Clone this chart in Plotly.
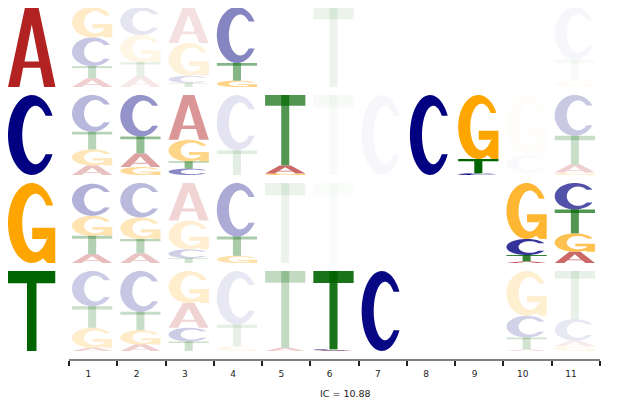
import numpy as np
import plotly.graph_objects as go

# ---------------- data ----------------
letters = ["A", "C", "G", "T"]
positions = list(range(1, 12))
tick_labels = [str(p) for p in positions]
ic_label = "IC = 10.88"

# Conditional letter distributions per position (order A, C, G, T),
# one list per "previous letter" row. None = row not shown.
cond_after_A = [
    [0.11, 0.36, 0.38, 0.15],
    [0.13, 0.35, 0.34, 0.18],
    [0.45, 0.09, 0.41, 0.05],
    [0.00, 0.70, 0.08, 0.22],
    None,
    [0.00, 0.00, 0.00, 1.00],
    None,
    None,
    None,
    None,
    [0.00, 0.66, 0.09, 0.25],
]
cond_after_C = [
    [0.12, 0.46, 0.20, 0.22],
    [0.17, 0.52, 0.10, 0.21],
    [0.56, 0.08, 0.27, 0.09],
    [0.00, 0.69, 0.00, 0.31],
    [0.10, 0.00, 0.02, 0.88],
    [0.00, 0.00, 0.00, 1.00],
    [0.00, 1.00, 0.00, 0.00],
    [0.00, 1.00, 0.00, 0.00],
    [0.00, 0.02, 0.80, 0.18],
    [0.01, 0.22, 0.75, 0.02],
    [0.10, 0.51, 0.03, 0.36],
]
cond_after_G = [
    [0.11, 0.40, 0.25, 0.23],
    [0.12, 0.43, 0.27, 0.18],
    [0.47, 0.11, 0.36, 0.06],
    [0.00, 0.67, 0.09, 0.24],
    [0.00, 0.00, 0.00, 1.00],
    [0.00, 0.00, 0.00, 1.00],
    None,
    None,
    None,
    [0.02, 0.20, 0.70, 0.08],
    [0.14, 0.33, 0.23, 0.30],
]
cond_after_T = [
    [0.04, 0.44, 0.25, 0.27],
    [0.08, 0.51, 0.18, 0.23],
    [0.31, 0.17, 0.40, 0.12],
    [0.00, 0.67, 0.06, 0.27],
    [0.04, 0.00, 0.00, 0.96],
    [0.01, 0.01, 0.00, 0.98],
    [0.00, 1.00, 0.00, 0.00],
    None,
    None,
    [0.02, 0.27, 0.56, 0.15],
    [0.07, 0.27, 0.06, 0.60],
]
# probability of the row's previous letter (shown as opacity)
weight_A = [0.22, 0.10, 0.14, 0.48, 0.00, 0.08, 0.00, 0.00, 0.00, 0.00, 0.03]
weight_C = [0.28, 0.42, 0.47, 0.11, 0.68, 0.03, 0.03, 1.00, 1.00, 0.02, 0.21]
weight_G = [0.30, 0.27, 0.19, 0.33, 0.08, 0.02, 0.00, 0.00, 0.00, 0.80, 0.68]
weight_T = [0.20, 0.22, 0.20, 0.09, 0.24, 0.90, 0.97, 0.00, 0.00, 0.18, 0.09]

rows = [
    ("A", cond_after_A, weight_A),
    ("C", cond_after_C, weight_C),
    ("G", cond_after_G, weight_G),
    ("T", cond_after_T, weight_T),
]

# ---------------- styles ----------------
letter_colors = {"A": "#B22222", "C": "#000080", "G": "#FFA500", "T": "#006400"}
W, H = 616, 392          # page body has an 8px margin
ROW_GAP = 0.1
CELL_PAD_L = 3 / 48.27
CELL_PAD_R = 5 / 48.27
FONT = "DejaVu Sans"


def arc(cx, cy, rx, ry, a0, a1, n=60):
    t = np.radians(np.linspace(a0, a1, n))
    return list(zip(cx + rx * np.cos(t), cy + ry * np.sin(t)))


def glyph(letter):
    """unit-box outlines; list of shapes, each a list of sub-polygons"""
    if letter == "A":
        outer = [(0, 0), (0.36, 1), (0.64, 1), (1, 0), (0.76, 0), (0.68, 0.24),
                 (0.32, 0.24), (0.24, 0)]
        hole = [(0.347, 0.32), (0.653, 0.32), (0.5, 0.78)]
        return [[outer, hole]]
    if letter == "T":
        bar = [(0, 0.846), (1, 0.846), (1, 1), (0, 1)]
        stem = [(0.4, 0), (0.6, 0), (0.6, 1), (0.4, 1)]
        return [[bar], [stem]]
    icx, irx, iry = 0.58, 0.28, 0.365
    if letter == "C":
        yt = 0.74
        to = np.degrees(np.arcsin((yt - 0.5) / 0.5))
        ti = np.degrees(np.arcsin((yt - 0.5) / iry))
        poly = arc(0.5, 0.5, 0.5, 0.5, to, 360 - to) + arc(icx, 0.5, irx, iry, 360 - ti, ti)
        return [[poly]]
    # G
    yt = 0.72
    to = np.degrees(np.arcsin((yt - 0.5) / 0.5))
    ti = np.degrees(np.arcsin((yt - 0.5) / iry))
    stem_x = 0.83
    start_i = 360 - np.degrees(np.arccos((stem_x - icx) / irx))
    poly = (arc(0.5, 0.5, 0.5, 0.5, to, 298)
            + [(stem_x, 0.0), (1.0, 0.0), (1.0, 0.44), (0.51, 0.44), (0.51, 0.30), (stem_x, 0.30)]
            + arc(icx, 0.5, irx, iry, start_i, ti))
    return [[poly]]


def to_path(subpaths, x0, x1, y0, y1):
    out = []
    for poly in subpaths:
        pts = ["%.5f,%.5f" % (x0 + u * (x1 - x0), y0 + v * (y1 - y0)) for u, v in poly]
        out.append("M" + "L".join(pts) + "Z")
    return "".join(out)


def letter_shapes(letter, x0, x1, y0, y1, opacity, xref):
    res = []
    for sub in glyph(letter):
        res.append(dict(type="path", path=to_path(sub, x0, x1, y0, y1), xref=xref, yref="y",
                        fillcolor=letter_colors[letter], opacity=opacity,
                        line=dict(width=0), layer="above"))
    return res


shapes = []
for r, (row_letter, conds, weights) in enumerate(rows):
    base = (3 - r) * (1 + ROW_GAP)
    # row label letter on the left
    shapes += letter_shapes(row_letter, 0, 1, base, base + 1, 1.0, "x2")
    for i, pos in enumerate(positions):
        probs = conds[i]
        w = weights[i]
        if probs is None or w <= 0:
            continue
        order = sorted(range(4), key=lambda k: probs[k])
        y = base
        x0 = pos - 0.5 + CELL_PAD_L
        x1 = pos + 0.5 - CELL_PAD_R
        for k in order:
            p = probs[k]
            if p <= 0:
                continue
            shapes += letter_shapes(letters[k], x0, x1, y, y + p, w, "x")
            y += p

fig = go.Figure()
fig.add_trace(go.Scatter(x=[None], y=[None], xaxis="x", yaxis="y", showlegend=False, hoverinfo="skip"))
fig.add_trace(go.Scatter(x=[None], y=[None], xaxis="x2", yaxis="y", showlegend=False, hoverinfo="skip"))

fig.update_layout(
    width=W, height=H,
    margin=dict(l=0, r=0, t=0, b=0),
    paper_bgcolor="white", plot_bgcolor="white",
    showlegend=False,
    shapes=shapes,
    xaxis=dict(
        domain=[61 / W, 592 / W], range=[0.5, 11.5], anchor="y",
        showgrid=False, zeroline=False, showline=True, linecolor="#808080", linewidth=2,
        ticks="outside", ticklen=5, tickcolor="rgba(0,0,0,0)",
        tickmode="array", tickvals=[p - 0.1 for p in positions], ticktext=tick_labels,
        tickfont=dict(family=FONT, size=9, color="#222222"),
        minor=dict(tickmode="array", tickvals=[p - 0.5 for p in positions] + [positions[-1] + 0.5],
                   ticks="outside", ticklen=5, tickwidth=2, tickcolor="#222222", showgrid=False),
    ),
    xaxis2=dict(domain=[0, 47.5 / W], range=[0, 1], anchor="y", visible=False),
    yaxis=dict(domain=[1 - 351 / H, 1], range=[-0.1, 4.2875], visible=False),
    annotations=[dict(text=ic_label, x=337 / W, y=1 - 385 / H, xref="paper", yref="paper",
                      showarrow=False, xanchor="center", yanchor="middle",
                      font=dict(family=FONT, size=9.5, color="#222222"))],
)

fig.write_html("out.html")
